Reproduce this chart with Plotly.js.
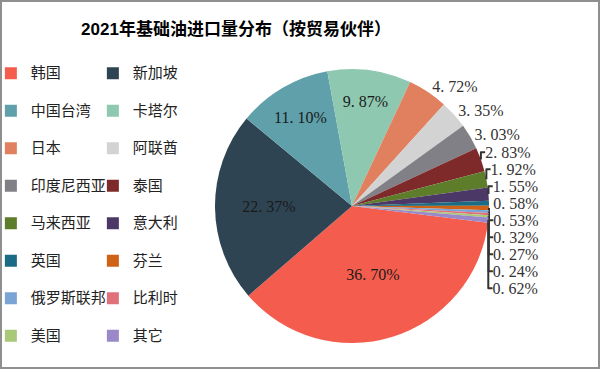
<!DOCTYPE html>
<html>
<head>
<meta charset="utf-8">
<script src="https://cdn.plot.ly/plotly-3.0.1.min.js"></script>
<style>
  html, body { margin: 0; padding: 0; background: #fff; }
  #wrap { position: relative; width: 600px; height: 369px; }
  #chart { width: 600px; height: 369px; }
  #frame { position: absolute; left: 0; top: 0; width: 600px; height: 369px; box-sizing: border-box; border: 2px solid #8f8f8f; pointer-events: none; }
</style>
</head>
<body>
<div id="wrap"><div id="chart"></div><div id="frame"></div></div>
<script>
// Data
const categories = ['韩国', '新加坡', '中国台湾', '卡塔尔', '日本', '阿联酋', '印度尼西亚', '泰国',
                    '马来西亚', '意大利', '英国', '芬兰', '俄罗斯联邦', '比利时', '美国', '其它'];
const shares = [36.70, 22.37, 11.10, 9.87, 4.72, 3.35, 3.03, 2.83,
                1.92, 1.55, 0.58, 0.53, 0.32, 0.27, 0.24, 0.62];
const colors = ['#F45D4E', '#2E4453', '#5FA0AA', '#8FC8B0', '#E0805F', '#D3D3D3', '#808086', '#7F2A2A',
                '#5E7D2B', '#4B3866', '#1A6B84', '#D06218', '#7BA4D6', '#E0707A', '#A9C978', '#9B88C8'];
const chartTitle = '2021年基础油进口量分布（按贸易伙伴）';

const sliceText = shares.map(v => v.toFixed(2).replace('.', '. ') + '%');
const legendLabels = categories.map(c => '<span style="font-size:15px">' + c + '</span><br>\u00a0');
const positions = shares.map((v, i) => i < 4 ? 'inside' : 'outside');

const trace = {
  type: 'pie',
  labels: legendLabels,
  values: shares,
  text: sliceText,
  textinfo: 'text',
  textposition: positions,
  insidetextorientation: 'horizontal',
  sort: false,
  direction: 'clockwise',
  rotation: 97,
  marker: { colors: colors, line: { width: 0 } },
  textfont: { family: 'Liberation Serif, DejaVu Serif, serif', size: 16, color: '#1a1a1a' },
  insidetextfont: { family: 'Liberation Serif, DejaVu Serif, serif', size: 16, color: '#1a1a1a' },
  outsidetextfont: { family: 'Liberation Serif, DejaVu Serif, serif', size: 16, color: '#333' },
  domain: { x: [0, 1], y: [0, 0.9614] },
  automargin: false,
  hoverinfo: 'label+percent'
};

const layout = {
  width: 600,
  height: 369,
  margin: { l: 215, r: 111, t: 58, b: 26, autoexpand: false },
  paper_bgcolor: '#fff',
  plot_bgcolor: '#fff',
  showlegend: true,
  title: {
    text: '<b>' + chartTitle + '</b>',
    x: 236 / 600, xref: 'container', xanchor: 'center',
    y: 1 - 29 / 369, yref: 'container', yanchor: 'middle',
    font: { family: 'Liberation Sans, Noto Sans CJK SC, sans-serif', size: 17, color: '#000' }
  },
  legend: {
    orientation: 'h',
    entrywidthmode: 'fraction',
    entrywidth: 0.34,
    x: -0.818, xanchor: 'left',
    y: 1, yanchor: 'top',
    valign: 'top',
    maxheight: 1,
    traceorder: 'normal',
    font: { family: 'Noto Sans CJK SC, sans-serif', size: 13.27, color: '#222' },
    bgcolor: 'rgba(0,0,0,0)'
  }
};

Plotly.newPlot('chart', [trace], layout, { displayModeBar: false, staticPlot: true });
</script>
</body>
</html>
